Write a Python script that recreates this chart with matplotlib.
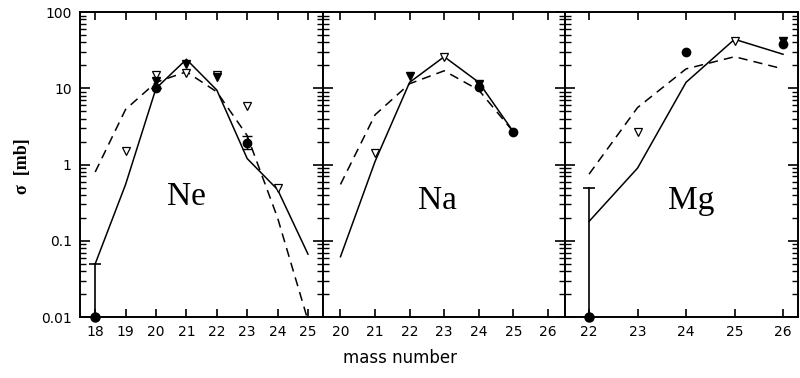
import matplotlib
matplotlib.use("Agg")
import matplotlib.pyplot as plt
from matplotlib.ticker import LogLocator, FixedLocator, NullFormatter

# ---- data ----
ne_mass = [18, 19, 20, 21, 22, 23, 24, 25]
ne_solid = [0.05, 0.55, 10, 24, 9.5, 1.2, 0.47, 0.067]
ne_dash = [0.8, 5.3, 12, 16.5, 9.0, 2.4, 0.2, 0.009]
ne_circ_x = [20, 23]
ne_circ_y = [10, 1.95]
ne_circ_lo = [0, 0.35]
ne_circ_hi = [0, 0.4]
ne_lim_x = [18]
ne_lim_y = [0.01]
ne_lim_top = [0.05]
ne_ftri_x = [20, 21, 22]
ne_ftri_y = [12.5, 21, 14]
ne_otri_x = [19, 20, 21, 22, 23, 24]
ne_otri_y = [1.5, 15, 16, 15, 5.8, 0.5]

na_mass = [20, 21, 22, 23, 24, 25]
na_solid = [0.062, 1.1, 12, 26, 12, 2.7]
na_dash = [0.55, 4.5, 11.5, 17, 9.5, 2.7]
na_circ_x = [24, 25]
na_circ_y = [10.5, 2.7]
na_ftri_x = [22, 24]
na_ftri_y = [14.5, 11.5]
na_otri_x = [21, 23]
na_otri_y = [1.4, 26]

mg_mass = [22, 23, 24, 25, 26]
mg_solid = [0.18, 0.9, 12, 44, 28]
mg_dash = [0.75, 5.6, 18, 26, 18]
mg_circ_x = [24, 26]
mg_circ_y = [30, 38]
mg_lim_x = [22]
mg_lim_y = [0.01]
mg_lim_top = [0.5]
mg_ftri_x = [26]
mg_ftri_y = [42]
mg_otri_x = [23, 25]
mg_otri_y = [2.7, 42]

panel_names = ["Ne", "Na", "Mg"]
xlims = [(17.5, 25.5), (19.5, 26.5), (21.5, 26.3)]
xticks = [list(range(18, 26)), list(range(20, 27)), list(range(22, 27))]
ytick_vals = [0.01, 0.1, 1, 10, 100]
ytick_labels = ["0.01", "0.1", "1", "10", "100"]
label_pos = [(21.0, 0.38), (22.8, 0.34), (24.1, 0.34)]

fig = plt.figure(figsize=(8.0, 3.78), dpi=100)
bottom, height = 0.161, 0.807
lefts = [0.100, 0.404, 0.706]
widths = [0.304, 0.3025, 0.291]
axes = [fig.add_axes([l, bottom, w, height]) for l, w in zip(lefts, widths)]

panels = [
    dict(mass=ne_mass, solid=ne_solid, dash=ne_dash, cx=ne_circ_x, cy=ne_circ_y,
         clo=ne_circ_lo, chi=ne_circ_hi, lx=ne_lim_x, ly=ne_lim_y, lt=ne_lim_top,
         fx=ne_ftri_x, fy=ne_ftri_y, ox=ne_otri_x, oy=ne_otri_y),
    dict(mass=na_mass, solid=na_solid, dash=na_dash, cx=na_circ_x, cy=na_circ_y,
         clo=None, chi=None, lx=[], ly=[], lt=[],
         fx=na_ftri_x, fy=na_ftri_y, ox=na_otri_x, oy=na_otri_y),
    dict(mass=mg_mass, solid=mg_solid, dash=mg_dash, cx=mg_circ_x, cy=mg_circ_y,
         clo=None, chi=None, lx=mg_lim_x, ly=mg_lim_y, lt=mg_lim_top,
         fx=mg_ftri_x, fy=mg_ftri_y, ox=mg_otri_x, oy=mg_otri_y),
]

for i, (ax, p) in enumerate(zip(axes, panels)):
    ax.set_yscale("log")
    ax.set_ylim(0.01, 100)
    ax.set_xlim(*xlims[i])
    ax.plot(p["mass"], p["solid"], color="black", lw=1.1, solid_joinstyle="miter")
    ax.plot(p["mass"], p["dash"], color="black", lw=1.1, ls=(0, (6, 4)))
    # open triangles
    ax.plot(p["ox"], p["oy"], ls="none", marker="v", ms=6, mfc="white",
            mec="black", mew=0.9, zorder=4)
    # filled triangles
    ax.plot(p["fx"], p["fy"], ls="none", marker="v", ms=6, color="black", zorder=5)
    # filled circles
    if p["clo"] is not None:
        ax.errorbar(p["cx"], p["cy"], yerr=[p["clo"], p["chi"]], fmt="o", ms=6,
                    color="black", capsize=3.5, elinewidth=1, zorder=6)
    else:
        ax.plot(p["cx"], p["cy"], ls="none", marker="o", ms=6, color="black", zorder=6)
    # upper-limit points at the axis bottom
    for x, y, t in zip(p["lx"], p["ly"], p["lt"]):
        ax.plot([x, x], [y, t], color="black", lw=1.2, clip_on=False)
        ax.plot([x], [t], marker="_", ms=8, mew=1.2, color="black")
        ax.plot([x], [y], marker="o", ms=6.5, color="black", clip_on=False, zorder=7)

    ax.text(label_pos[i][0], label_pos[i][1], panel_names[i], fontsize=24,
            family="Liberation Serif", ha="center", va="center")

    ax.xaxis.set_major_locator(FixedLocator(xticks[i]))
    ax.set_xticklabels([str(v) for v in xticks[i]])
    ax.yaxis.set_major_locator(FixedLocator(ytick_vals))
    ax.yaxis.set_minor_locator(LogLocator(base=10, subs=range(2, 10)))
    ax.yaxis.set_minor_formatter(NullFormatter())
    if i == 0:
        ax.set_yticklabels(ytick_labels)
    else:
        ax.set_yticklabels([])
    ax.tick_params(axis="both", which="both", direction="in", top=True, right=True,
                   labelsize=10, pad=6)
    ax.tick_params(axis="x", which="major", length=6, width=1.2)
    ax.tick_params(axis="y", which="major", length=7, width=1.2)
    ax.tick_params(axis="y", which="minor", length=4, width=1.0)
    for s in ax.spines.values():
        s.set_linewidth(1.4)

fig.text(0.028, 0.56, "σ  [mb]", rotation=90, ha="center", va="center",
         fontsize=13, fontweight="bold", family="Liberation Serif")
fig.text(0.5, 0.052, "mass number", ha="center", va="center", fontsize=12)

fig.savefig("out.png", dpi=100)
